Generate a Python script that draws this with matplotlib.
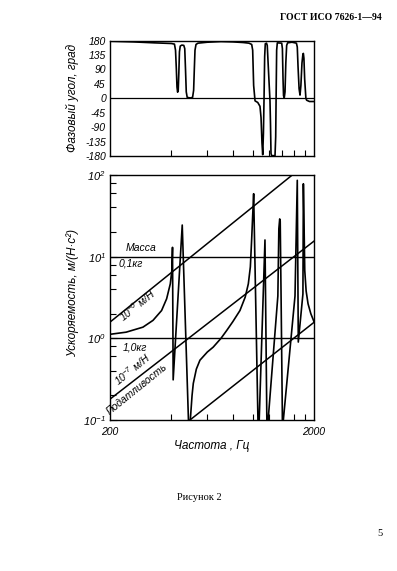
import math
import matplotlib
matplotlib.use('Agg')
import matplotlib.pyplot as plt
from matplotlib import font_manager
from matplotlib.ticker import NullFormatter, NullLocator

# --- data ---
phase_ticks = [180, 135, 90, 45, 0, -45, -90, -135, -180]
freq_minor = [400, 600, 800, 1000, 1200, 1400, 1600, 1800]

# phase curve (Hz, degrees)
phase_freq = [200, 260, 330, 400, 414, 419, 423, 426, 429, 432,
              435, 438, 442, 450, 460, 465, 469, 473, 478, 495,
              508, 514, 518, 522, 528, 540, 600, 700, 800, 900,
              960, 990, 1001, 1012, 1028, 1060, 1087, 1100, 1112, 1121,
              1130, 1138, 1146, 1154, 1170, 1180, 1200, 1217, 1224, 1231,
              1240, 1288, 1298, 1305, 1312, 1322, 1389, 1400, 1410, 1418,
              1430, 1442, 1455, 1469, 1485, 1560, 1640, 1656, 1670, 1690,
              1708, 1725, 1746, 1765, 1774, 1785, 1800, 1825, 1841, 1900,
              2000]
phase_deg = [178, 176, 173, 171, 169, 150, 90, 35, 19, 25,
             80, 145, 163, 166, 165, 155, 90, 20, 3, 1,
             3, 25, 90, 150, 168, 172, 175, 177, 176, 174,
             172, 168, 150, 40, -8, -13, -25, -60, -140, -176,
             -110, 0, 130, 170, 172, 165, 70, -8, -80, -172,
             -179, -179, -120, 20, 150, 173, 172, 155, 60, 8,
             2, 20, 110, 165, 173, 175, 172, 160, 100, 30,
             10, 40, 110, 138, 140, 125, 60, 0, -6, -10,
             -10]

# accelerance curve (Hz, m/(N*s^2))
acc_freq = [200, 240, 290, 325, 358, 379, 395, 402, 405, 408,
            452, 488, 505, 512, 530, 552, 600, 641, 700, 747,
            800, 867, 920, 953, 975, 990, 1000, 1012, 1068, 1150,
            1178, 1192, 1330, 1345, 1358, 1366, 1380, 1400, 1408, 1415,
            1614, 1656, 1675, 1765, 1774, 1790, 1802, 1830, 1870, 1930,
            2000]
acc_val = [1.12, 1.19, 1.37, 1.66, 2.19, 3.05, 4.65, 6.8, 13.0, 0.31,
           24.4, 0.06, 0.2, 0.28, 0.42, 0.54, 0.68, 0.78, 1.0, 1.25,
           1.6, 2.19, 3.2, 4.65, 7.5, 16.7, 30, 59, 0.05, 16,
           0.05, 0.1, 3.3, 22, 29, 27, 2.9, 0.1, 0.05, 0.1,
           3.3, 86, 0.9, 3.5, 78, 20, 6.75, 3.8, 2.65, 2.0,
           1.6]

# compliance lines 10^-6, 10^-7, 10^-8 m/N (end points)
comp_f0 = [200, 200, 493]
comp_v0 = [1.58, 0.18, 0.1]
comp_f1 = [1565, 2000, 2000]
comp_v1 = [100, 15.5, 1.57]

# mass lines 0.1 kg and 1.0 kg
mass_lines = [10, 1]

acc_ticks = [0.1, 1, 10, 100]
acc_ticklabels = [r'$10^{-1}$', r'$10^{0}$', r'$10^{1}$', r'$10^{2}$']
acc_minor = [m * d for d in (0.1, 1, 10) for m in (2, 4, 6, 8)]

# --- fonts ---
names = {f.name for f in font_manager.fontManager.ttflist}
SANS = 'Liberation Sans' if 'Liberation Sans' in names else 'DejaVu Sans'
SERIF = 'Liberation Serif' if 'Liberation Serif' in names else 'DejaVu Serif'
plt.rcParams['font.family'] = [SANS, 'DejaVu Sans']
plt.rcParams['font.style'] = 'italic'
plt.rcParams['mathtext.fontset'] = 'custom'
plt.rcParams['mathtext.rm'] = SANS + ':italic'
plt.rcParams['mathtext.it'] = SANS + ':italic'
plt.rcParams['mathtext.default'] = 'it'

W, H = 397, 571
fig = plt.figure(figsize=(W / 100, H / 100), dpi=100)


def box(x0, y0, x1, y1):
    return [x0 / W, 1 - y1 / H, (x1 - x0) / W, (y1 - y0) / H]


def fpos(px, py):
    return px / W, 1 - py / H


# phase panel
ax1 = fig.add_axes(box(110, 40.6, 314, 156))
ax1.set_xscale('log')
ax1.set_xlim(200, 2000)
ax1.set_ylim(-180, 180)
ax1.plot(phase_freq, phase_deg, color='black', lw=1.2)
ax1.axhline(0, color='black', lw=0.9)
ax1.set_yticks(phase_ticks)
ax1.set_yticklabels([str(t) for t in phase_ticks], fontsize=7.5)
ax1.tick_params(axis='y', length=0, pad=3)
ax1.set_xticks(freq_minor)
ax1.set_xticklabels([])
ax1.xaxis.set_minor_locator(NullLocator())
ax1.tick_params(axis='x', direction='in', length=4, width=0.8)
ax1.set_ylabel('Фазовый угол, град', fontsize=8.5)
ax1.yaxis.set_label_coords(-0.15, 0.5)

# accelerance panel
ax2 = fig.add_axes(box(110, 175, 314, 420))
ax2.set_xscale('log')
ax2.set_yscale('log')
ax2.set_xlim(200, 2000)
ax2.set_ylim(0.1, 100)
ax2.plot(acc_freq, acc_val, color='black', lw=1.2)
for f0, v0, f1, v1 in zip(comp_f0, comp_v0, comp_f1, comp_v1):
    ax2.plot([f0, f1], [v0, v1], color='black', lw=1.1)
for m in mass_lines:
    ax2.axhline(m, color='black', lw=1.0)

ax2.set_xticks([200, 2000])
ax2.set_xticklabels(['200', '2000'], fontsize=7.5)
ax2.set_xticks(freq_minor, minor=True)
ax2.xaxis.set_minor_formatter(NullFormatter())
ax2.tick_params(axis='x', which='major', length=0, pad=5)
ax2.tick_params(axis='x', which='minor', direction='in', length=4, width=0.8)
ax2.set_yticks(acc_ticks)
ax2.set_yticklabels(acc_ticklabels, fontsize=8)
ax2.set_yticks(acc_minor, minor=True)
ax2.yaxis.set_minor_formatter(NullFormatter())
ax2.tick_params(axis='y', which='major', direction='in', length=5, width=0.8, pad=3)
ax2.tick_params(axis='y', which='minor', direction='in', length=4, width=0.8)
ax2.set_xlabel('Частота , Гц', fontsize=8.5, labelpad=2)
ax2.set_ylabel('Ускоряемость, м/(Н·с²)', fontsize=8.5)
ax2.yaxis.set_label_coords(-0.15, 0.52)

for ax in (ax1, ax2):
    for s in ax.spines.values():
        s.set_linewidth(1.0)

# annotations inside the lower panel
p0 = ax2.transData.transform((comp_f0[0], comp_v0[0]))
p1 = ax2.transData.transform((comp_f1[0], comp_v1[0]))
ang = math.degrees(math.atan2(p1[1] - p0[1], p1[0] - p0[0]))

fig.text(*fpos(141, 248), 'Масса', fontsize=7.5, ha='center', va='center')
fig.text(*fpos(131, 263), '0,1кг', fontsize=7.5, ha='center', va='center')
fig.text(*fpos(135, 347), '1,0кг', fontsize=7.5, ha='center', va='center')
fig.text(*fpos(137, 305), r'$10^{-6}$ м/Н', fontsize=7.5, ha='center', va='center',
         rotation=ang, rotation_mode='anchor')
fig.text(*fpos(132, 369), r'$10^{-7}$ м/Н', fontsize=7.5, ha='center', va='center',
         rotation=ang, rotation_mode='anchor')
fig.text(*fpos(137, 389), 'Податливость', fontsize=7.5, ha='center', va='center',
         rotation=ang, rotation_mode='anchor')

# page text
fig.text(*fpos(382, 18), 'ГОСТ ИСО 7626-1—94', fontsize=7, family=SERIF,
         style='normal', weight='bold', ha='right', va='center')
fig.text(*fpos(199, 497), 'Рисунок 2', fontsize=7.5, family=SERIF,
         style='normal', ha='center', va='center')
fig.text(*fpos(380, 534), '5', fontsize=7.5, family=SERIF,
         style='normal', ha='center', va='center')

fig.savefig('out.png', dpi=100)
